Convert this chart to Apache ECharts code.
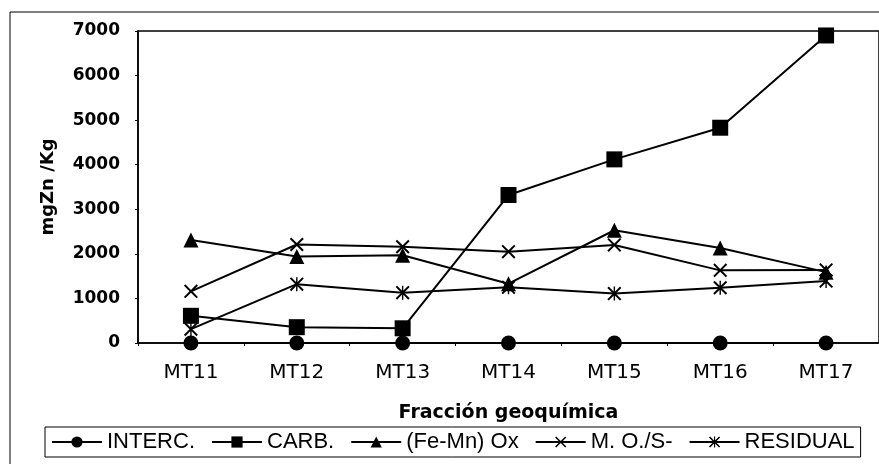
<!DOCTYPE html>
<html>
<head>
<meta charset="utf-8">
<script src="https://cdn.jsdelivr.net/npm/echarts@6/dist/echarts.min.js"></script>
<style>
  html, body { margin: 0; padding: 0; background: #fff; }
  #chart { width: 879px; height: 464px; }
</style>
</head>
<body>
<div id="chart"></div>
<script>
// data
const categories = ['MT11', 'MT12', 'MT13', 'MT14', 'MT15', 'MT16', 'MT17']
const interc = [0, 0, 0, 0, 0, 0, 0]
const carb = [610, 355, 330, 3320, 4120, 4830, 6900]
const feMnOx = [2310, 1940, 1970, 1330, 2530, 2130, 1590]
const moS = [1160, 2210, 2160, 2050, 2200, 1630, 1640]
const residual = [310, 1320, 1130, 1250, 1110, 1240, 1390]
const yTicks = [0, 1000, 2000, 3000, 4000, 5000, 6000, 7000]

const names = ['INTERC.', 'CARB.', '(Fe-Mn) Ox', 'M. O./S-', 'RESIDUAL']

// marker shapes
const xMark = 'path://M2,0L10,8L18,0L20,2L12,10L20,18L18,20L10,12L2,20L0,18L8,10L0,2Z'
const starMark = 'path://M2,0L10,8L18,0L20,2L12,10L20,18L18,20L10,12L2,20L0,18L8,10L0,2Z' +
  'M9,0L11,0L11,20L9,20Z'

const chart = echarts.init(document.getElementById('chart'))

function lineSeries(name, data, symbol, size) {
  return {
    name: name,
    type: 'line',
    data: data,
    symbol: symbol,
    symbolSize: size,
    showAllSymbol: true,
    lineStyle: { color: '#000', width: 2 },
    itemStyle: { color: '#000' },
    emphasis: { disabled: true },
    animation: false
  }
}

const option = {
  animation: false,
  backgroundColor: '#fff',
  textStyle: { fontFamily: 'DejaVu Sans', color: '#000' },
  graphic: [
    {
      type: 'rect',
      shape: { x: 10, y: 12, width: 900, height: 480 },
      style: { fill: 'none', stroke: '#000', lineWidth: 1 },
      silent: true,
      z: -1
    }
  ],
  grid: {
    left: 138,
    top: 31,
    right: -1,
    bottom: 121,
    show: true,
    borderColor: '#000',
    borderWidth: 1.5,
    containLabel: false
  },
  legend: {
    data: names,
    left: 45,
    top: 427,
    orient: 'horizontal',
    itemWidth: 50,
    itemHeight: 14,
    itemGap: 16,
    padding: [4, 6],
    borderColor: '#000',
    borderWidth: 1,
    selectedMode: false,
    textStyle: {
      fontFamily: 'Liberation Sans',
      fontSize: 22,
      color: '#000'
    }
  },
  xAxis: {
    type: 'category',
    data: categories,
    boundaryGap: true,
    name: 'Fracción geoquímica',
    nameLocation: 'middle',
    nameGap: 61,
    nameTextStyle: { fontFamily: 'DejaVu Sans', fontWeight: 'bold', fontSize: 19, color: '#000' },
    axisLine: { lineStyle: { color: '#000', width: 1.5 } },
    axisTick: { show: true, length: 3, lineStyle: { color: '#000' } },
    axisLabel: { fontFamily: 'DejaVu Sans', fontSize: 20, color: '#000', margin: 20 },
    splitLine: { show: false }
  },
  yAxis: {
    type: 'value',
    min: yTicks[0],
    max: yTicks[yTicks.length - 1],
    interval: 1000,
    name: 'mgZn /Kg',
    nameLocation: 'middle',
    nameGap: 81,
    nameTextStyle: { fontFamily: 'DejaVu Sans', fontWeight: 'bold', fontSize: 18, color: '#000' },
    axisLine: { show: true, lineStyle: { color: '#000', width: 1.5 } },
    axisTick: { show: true, length: 3, lineStyle: { color: '#000' } },
    axisLabel: {
      fontFamily: 'DejaVu Sans',
      fontWeight: 'bold',
      fontSize: 17,
      color: '#000',
      margin: 18,
      formatter: (v) => String(v)
    },
    splitLine: { show: false }
  },
  series: [
    lineSeries(names[0], interc, 'circle', 15),
    lineSeries(names[1], carb, 'rect', 16),
    lineSeries(names[2], feMnOx, 'triangle', 15),
    lineSeries(names[3], moS, xMark, 14),
    lineSeries(names[4], residual, starMark, 14)
  ]
}

chart.setOption(option)
</script>
</body>
</html>
